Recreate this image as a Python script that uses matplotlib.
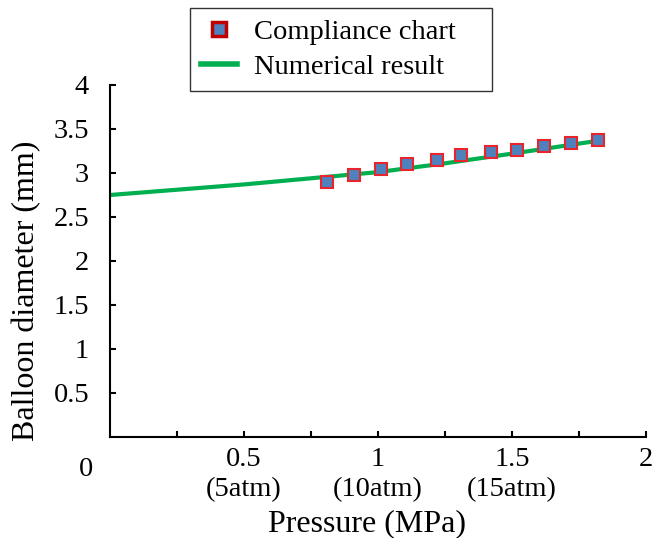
import matplotlib
matplotlib.use("Agg")
import matplotlib.pyplot as plt
from matplotlib.lines import Line2D

# Data
pressure_chart = [0.81, 0.91, 1.01, 1.11, 1.22, 1.31, 1.42, 1.52, 1.62, 1.72, 1.82]
diameter_chart = [2.90, 2.98, 3.04, 3.10, 3.15, 3.20, 3.24, 3.26, 3.31, 3.34, 3.37]
pressure_num = [0.0, 0.25, 0.5, 0.75, 1.0, 1.25, 1.5, 1.84]
diameter_num = [2.75, 2.81, 2.87, 2.94, 3.01, 3.11, 3.22, 3.375]
xtick_vals = [0.5, 1.0, 1.5, 2.0]
xtick_labels = ["0.5\n(5atm)", "1\n(10atm)", "1.5\n(15atm)", "2"]
ytick_vals = [0.5, 1, 1.5, 2, 2.5, 3, 3.5, 4]
ytick_labels = ["0.5", "1", "1.5", "2", "2.5", "3", "3.5", "4"]

plt.rcParams['font.family'] = ['Liberation Serif', 'DejaVu Serif']

fig = plt.figure(figsize=(6.52, 5.38), dpi=100)
ax = fig.add_axes([110/652, 1-437/538, 536/652, 352/538])

green = '#00b050'
ax.plot(pressure_num, diameter_num, color=green, lw=3, solid_capstyle='butt', zorder=2)
ax.plot(pressure_chart, diameter_chart, linestyle='none', marker='s', markersize=8.5,
        markerfacecolor='#4f81bd', markeredgecolor='#e8242c', markeredgewidth=1.5, zorder=3)

ax.set_xlim(0, 2)
ax.set_ylim(0, 4)
for s in ['top', 'right']:
    ax.spines[s].set_visible(False)
for s in ['left', 'bottom']:
    ax.spines[s].set_linewidth(1.5)

ax.set_xticks([0.25, 0.5, 0.75, 1.0, 1.25, 1.5, 1.75, 2.0])
ax.set_xticklabels(["", xtick_labels[0], "", xtick_labels[1], "", xtick_labels[2], "", xtick_labels[3]],
                   fontsize=20.5, linespacing=1.3)
ax.set_yticks(ytick_vals)
ax.set_yticklabels(ytick_labels, fontsize=20.5)
ax.tick_params(axis='both', direction='in', length=4, width=1.5)
ax.tick_params(axis='x', pad=7)
ax.tick_params(axis='y', pad=15)

ax.text(-0.09, -0.37, "0", fontsize=20.5, ha='center', va='center')

ax.set_xlabel("Pressure (MPa)", fontsize=23)
ax.set_ylabel("Balloon diameter (mm)", fontsize=23)
ax.xaxis.set_label_coords(0.479, -0.205)
ax.yaxis.set_label_coords(-0.129, 0.415)

handles = [
    Line2D([], [], linestyle='none', marker='s', markersize=10, markerfacecolor='#4f81bd',
           markeredgecolor='#c00000', markeredgewidth=2.5),
    Line2D([], [], color=green, lw=4),
]
leg = fig.legend(handles, ["Compliance chart", "Numerical result"], loc='upper left',
                 bbox_to_anchor=(190/652, 1-8/538, 302/652, 0.0), mode='expand',
                 fontsize=20.5, frameon=True, fancybox=False,
                 handlelength=1.25, borderpad=0.4, labelspacing=0.3, handletextpad=0.6,
                 borderaxespad=0)
leg.get_frame().set_edgecolor('black')
leg.get_frame().set_linewidth(1.0)

fig.savefig("out.png", dpi=100)
